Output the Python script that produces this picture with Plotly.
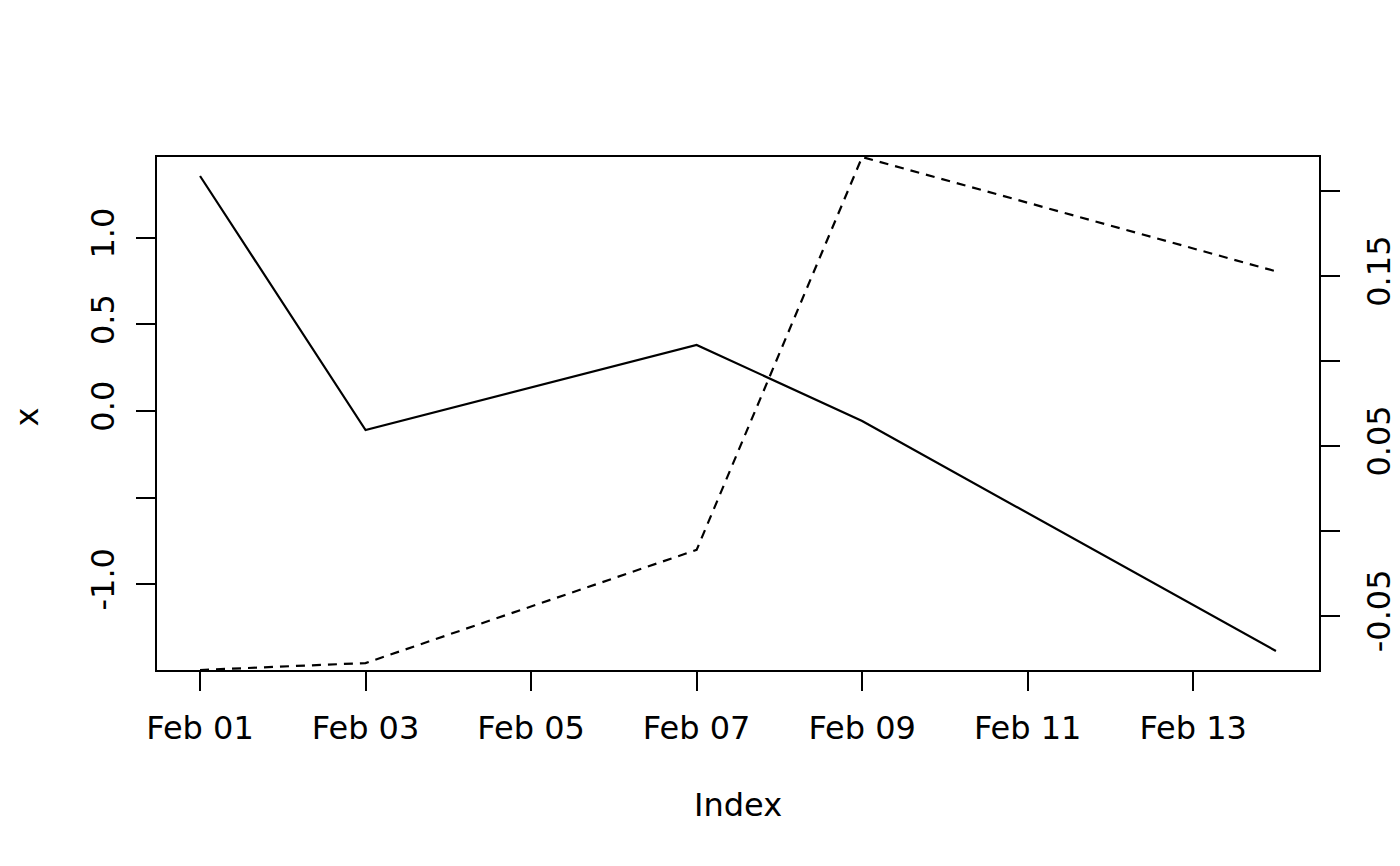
import pandas as pd
import plotly.graph_objects as go

dates = ["2020-02-01", "2020-02-03", "2020-02-07", "2020-02-09", "2020-02-14"]
x_vals = [1.358, -0.110, 0.382, -0.058, -1.387]
y_vals = [-0.0820, -0.0779, -0.0113, 0.2200, 0.1527]

left_ticks = [-1.0, -0.5, 0.0, 0.5, 1.0]
left_text = ["-1.0", "", "0.0", "0.5", "1.0"]
right_ticks = [-0.05, 0.00, 0.05, 0.10, 0.15, 0.20]
right_text = ["-0.05", "", "0.05", "", "0.15", ""]
x_ticks = ["2020-02-01", "2020-02-03", "2020-02-05", "2020-02-07",
           "2020-02-09", "2020-02-11", "2020-02-13"]
x_text = ["Feb 01", "Feb 03", "Feb 05", "Feb 07", "Feb 09", "Feb 11", "Feb 13"]

d = pd.to_datetime(dates)
span = d.max() - d.min()
xr = [d.min() - span * 0.04, d.max() + span * 0.04]
ymin, ymax = min(x_vals), max(x_vals)
yr = [ymin - (ymax - ymin) * 0.04, ymax + (ymax - ymin) * 0.04]
y2r = [min(y_vals), max(y_vals)]

FONT = "DejaVu Sans"
FS = 32
fig = go.Figure()
fig.add_trace(go.Scatter(x=d, y=x_vals, mode="lines",
                         line=dict(color="black", width=2.2), yaxis="y"))
fig.add_trace(go.Scatter(x=d, y=y_vals, mode="lines",
                         line=dict(color="black", width=2.2, dash="9px,7px"), yaxis="y2"))

axis_common = dict(showgrid=False, zeroline=False, ticks="outside", ticklen=19,
                   tickwidth=2, tickcolor="black", linecolor="black", linewidth=2,
                   automargin=False,
                   tickfont=dict(family=FONT, size=FS, color="black"))

fig.update_layout(
    width=1400, height=866,
    margin=dict(l=149, r=89, t=149, b=204, autoexpand=False),
    paper_bgcolor="white", plot_bgcolor="white",
    showlegend=False,
    xaxis=dict(type="date", range=xr, tickvals=pd.to_datetime(x_ticks), ticktext=x_text,
               showline=True, mirror=True, ticklabelstandoff=10, **axis_common),
    yaxis=dict(range=yr, tickvals=left_ticks, ticktext=left_text, tickangle=-90,
               showline=True, mirror=True, ticklabelstandoff=9, **axis_common),
    yaxis2=dict(range=y2r, tickvals=right_ticks, ticktext=right_text, tickangle=-90,
                overlaying="y", side="right", showline=True, ticklabelstandoff=12,
                **axis_common),
    annotations=[
        dict(text="Index", xref="paper", yref="paper", x=0.5, y=-0.263,
             xanchor="center", yanchor="middle", showarrow=False,
             font=dict(family=FONT, size=FS, color="black")),
        dict(text="x", xref="paper", yref="paper", x=-0.112, y=0.494,
             xanchor="center", yanchor="middle", showarrow=False, textangle=-90,
             font=dict(family=FONT, size=FS, color="black")),
    ],
)
fig.write_html("out.html")
